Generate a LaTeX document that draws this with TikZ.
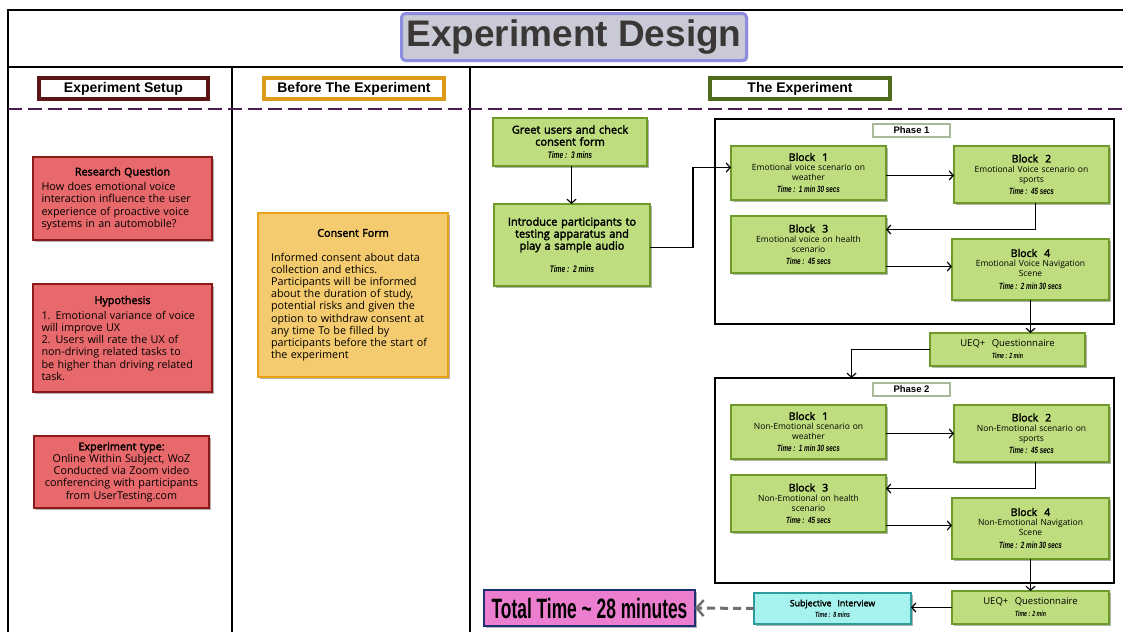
\documentclass[tikz,border=0pt]{standalone}
\usepackage{fontspec}
\setmainfont{Open Sans}[WordSpace=1.3,AutoFakeBold=2.5]
\newfontfamily\hfont{Liberation Sans}
\newfontfamily\tfont{Liberation Sans}[FakeStretch=0.7]
\newfontfamily\bigfont{Liberation Sans}[FakeStretch=0.62]
\usetikzlibrary{arrows.meta,shadows,calc}
\definecolor{redF}{HTML}{E8696B}
\definecolor{redB}{HTML}{8B1A1A}
\definecolor{yelF}{HTML}{F4CB6E}
\definecolor{yelB}{HTML}{E8A317}
\definecolor{grnF}{HTML}{BEDD7E}
\definecolor{grnB}{HTML}{6E9A2A}
\definecolor{cyF}{HTML}{A6F2EE}
\definecolor{cyB}{HTML}{2F9C9C}
\definecolor{totF}{HTML}{EC7ECF}
\definecolor{totB}{HTML}{1F2F6F}
\definecolor{titleF}{HTML}{C9CAD5}
\definecolor{titleB}{HTML}{8E8EE0}
\definecolor{titleT}{HTML}{3B3737}
\definecolor{setupB}{HTML}{5C1515}
\definecolor{beforeB}{HTML}{DC9A18}
\definecolor{expB}{HTML}{4F6B1B}
\definecolor{dashC}{HTML}{4B1C4F}
\definecolor{labB}{HTML}{A9B99A}
\definecolor{dgray}{HTML}{707070}
\newcommand\timetxt[2][9]{{\tfont\fontsize{#1}{#1}\selectfont\bfseries\itshape #2}}
\begin{document}
\begin{tikzpicture}[x=1pt,y=-1pt,
  every node/.style={inner sep=0pt,outer sep=0pt},
  sh/.style={drop shadow={shadow xshift=1.5pt,shadow yshift=-1.5pt,opacity=0.3,fill=black}},
  redbox/.style={draw=redB,fill=redF,line width=1.6pt,sh},
  ybox/.style={draw=yelB,fill=yelF,line width=1.6pt,sh},
  gbox/.style={draw=grnB,fill=grnF,line width=1.6pt,sh,align=center},
  hdr/.style={fill=white,line width=4pt,minimum height=21pt,sh,font=\hfont\fontsize{14}{14}\selectfont\bfseries},
  plabel/.style={fill=white,draw=labB,line width=1.8pt,minimum width=77pt,minimum height=13pt,font=\hfont\fontsize{9.5}{9.5}\selectfont\bfseries},
  frame/.style={draw=black,line width=2pt,minimum width=399pt,minimum height=205pt},
  blk/.style={gbox,minimum width=155pt,font=\fontsize{8.5}{10}\selectfont},
  arr/.style={line width=1.2pt,-{Straight Barb[length=4pt,width=9pt,line width=1.2pt]}},
]
\useasboundingbox (0,0) rectangle (1123,632);
\fill[white] (0,0) rectangle (1123,632);

% frame lines
\draw[line width=1.2pt] (1123,10) -- (8,10) -- (8,632);
\draw[line width=2.5pt] (8,67) -- (1123,67);
\draw[line width=2pt] (232,67) -- (232,632);
\draw[line width=2pt] (470,67) -- (470,632);
\draw[draw=dashC,line width=2.5pt,dash pattern=on 14pt off 6pt] (8,109) -- (1123,109);

% title
\node[draw=titleB,fill=titleF,line width=3pt,rounded corners=4pt,minimum width=345pt,minimum height=47pt,sh] (title) at (574,37)
  {\hfont\fontsize{37}{37}\selectfont\bfseries\color{titleT}Experiment Design};

% headers
\node[hdr,draw=setupB,minimum width=169pt] (hsetup) at (123.5,88.5) {Experiment Setup};
\node[hdr,draw=beforeB,minimum width=180pt] (hbefore) at (354,88.5) {Before The Experiment};
\node[hdr,draw=expB,minimum width=180pt] (hexp) at (800,88.5) {The Experiment};

% left column
\node[redbox,minimum width=179pt,minimum height=83pt,text width=162pt] (rq) at (122.5,198.5)
  {\fontsize{10.8}{12.2}\selectfont{\centering\bfseries Research Question\par}\vspace{3pt}\raggedright
   How does emotional voice\\interaction influence the user\\experience of proactive voice\\systems in an automobile?};
\node[redbox,minimum width=179pt,minimum height=108pt,text width=162pt] (hyp) at (122.5,338)
  {\fontsize{10.8}{12.2}\selectfont{\centering\bfseries Hypothesis\par}\vspace{3pt}\raggedright
   1. Emotional variance of voice\\will improve UX\\2. Users will rate the UX of\\non-driving related tasks to\\be higher than driving related\\task.};
\node[redbox,minimum width=175pt,minimum height=72pt,text width=172pt] (etype) at (121.5,472)
  {\fontsize{10.8}{12.2}\selectfont\centering{\bfseries Experiment type:}\\Online Within Subject, WoZ\\Conducted via Zoom video\\conferencing with participants\\from UserTesting.com\par};

% consent
\node[ybox,minimum width=190pt,minimum height=164pt,text width=164pt] (consent) at (353,295)
  {\fontsize{10.8}{12.2}\selectfont{\centering\bfseries Consent Form\par}\vspace{12pt}\raggedright
   Informed consent about data\\collection and ethics.\\Participants will be informed\\about the duration of study,\\potential risks and given the\\option to withdraw consent at\\any time To be filled by\\participants before the start of\\the experiment};

% experiment
\node[gbox,minimum width=154pt,minimum height=48pt,font=\bfseries\fontsize{11}{12}\selectfont] (greet) at (570,142)
  {Greet users and check\\consent form\\[1pt]\timetxt[9.5]{Time :\ \ 3 mins}};
\node[gbox,minimum width=156pt,minimum height=82pt,font=\bfseries\fontsize{11}{12}\selectfont] (intro) at (572,245)
  {Introduce participants to\\testing apparatus and\\play a sample audio\\[11pt]\timetxt[9.5]{Time :\ \ 2 mins}};

\node[frame] (ph1) at (914.5,221.5) {};
\node[frame] (ph2) at (914.5,480.5) {};
\node[plabel] (ph1l) at (911.5,130.5) {Phase 1};
\node[plabel] (ph2l) at (911.5,389.5) {Phase 2};

\node[blk,minimum height=54pt] (p1b1) at (808.5,173)
  {{\bfseries\fontsize{10.5}{12}\selectfont Block\ \ 1}\\Emotional voice scenario on\\weather\\[2pt]\timetxt{Time :\ \ 1 min 30 secs}};
\node[blk,minimum height=57pt] (p1b2) at (1031.5,174.5)
  {{\bfseries\fontsize{10.5}{12}\selectfont Block\ \ 2}\\Emotional Voice scenario on\\sports\\[2pt]\timetxt{Time :\ \ 45 secs}};
\node[blk,minimum height=57pt] (p1b3) at (808.5,244.5)
  {{\bfseries\fontsize{10.5}{12}\selectfont Block\ \ 3}\\Emotional voice on health\\scenario\\[2pt]\timetxt{Time :\ \ 45 secs}};
\node[blk,minimum width=157pt,minimum height=61pt] (p1b4) at (1030.5,269.5)
  {{\bfseries\fontsize{10.5}{12}\selectfont Block\ \ 4}\\Emotional Voice Navigation\\Scene\\[3pt]\timetxt{Time :\ \ 2 min 30 secs}};
\node[gbox,minimum width=155pt,minimum height=33pt,font=\fontsize{9.5}{11}\selectfont] (ueq1) at (1007.5,349.5)
  {UEQ+\ \ Questionnaire\\[1pt]\timetxt[7.5]{Time : 2 min}};

\node[blk,minimum height=54pt] (p2b1) at (808.5,432)
  {{\bfseries\fontsize{10.5}{12}\selectfont Block\ \ 1}\\Non-Emotional scenario on\\weather\\[2pt]\timetxt{Time :\ \ 1 min 30 secs}};
\node[blk,minimum height=57pt] (p2b2) at (1031.5,433.5)
  {{\bfseries\fontsize{10.5}{12}\selectfont Block\ \ 2}\\Non-Emotional scenario on\\sports\\[2pt]\timetxt{Time :\ \ 45 secs}};
\node[blk,minimum height=57pt] (p2b3) at (808.5,503.5)
  {{\bfseries\fontsize{10.5}{12}\selectfont Block\ \ 3}\\Non-Emotional on health\\scenario\\[2pt]\timetxt{Time :\ \ 45 secs}};
\node[blk,minimum width=157pt,minimum height=61pt] (p2b4) at (1030.5,528.5)
  {{\bfseries\fontsize{10.5}{12}\selectfont Block\ \ 4}\\Non-Emotional Navigation\\Scene\\[3pt]\timetxt{Time :\ \ 2 min 30 secs}};
\node[gbox,minimum width=157pt,minimum height=33pt,font=\fontsize{9.5}{11}\selectfont] (ueq2) at (1030.5,607.5)
  {UEQ+\ \ Questionnaire\\[1pt]\timetxt[7.5]{Time : 2 min}};

\node[draw=cyB,fill=cyF,line width=1.6pt,sh,align=center,minimum width=157pt,minimum height=31pt,font=\bfseries\fontsize{8.8}{10}\selectfont] (subj) at (832.5,608.5)
  {Subjective\ \ Interview\\[1pt]\timetxt[7.5]{Time :\ \ 8 mins}};
\node[draw=totB,fill=totF,line width=1.8pt,minimum width=211pt,minimum height=36pt,sh] (total) at (589.5,608)
  {\bigfont\fontsize{28}{28}\selectfont\bfseries Total Time \textasciitilde\ 28 minutes};

% connectors
\draw[arr] ([xshift=1.5pt]greet.south) -- ([xshift=1.5pt]greet.south |- intro.north);
\draw[arr] ([yshift=-2.5pt]intro.east) -- ++(43pt,0) |- ([yshift=5.5pt]p1b1.west);
\draw[arr] ([yshift=-2.5pt]p1b1.east) -- ([yshift=-2.5pt]p1b1.east -| p1b2.west);
\draw[arr] ([xshift=4pt]p1b2.south) |- ([yshift=15pt]p1b3.east);
\draw[arr] ([yshift=-22pt]p1b3.east) -- ([yshift=-22pt]p1b3.east -| p1b4.west);
\draw[arr] (p1b4.south) -- (p1b4.south |- ueq1.north);
\draw[arr] (ueq1.west) -| ([xshift=-63pt]ph2.north);
\draw[arr] ([yshift=-1.5pt]p2b1.east) -- ([yshift=-1.5pt]p2b1.east -| p2b2.west);
\draw[arr] ([xshift=4pt]p2b2.south) |- ([yshift=15pt]p2b3.east);
\draw[arr] ([yshift=-22pt]p2b3.east) -- ([yshift=-22pt]p2b3.east -| p2b4.west);
\draw[arr] (p2b4.south) -- (p2b4.south |- ueq2.north);
\draw[arr] (ueq2.west) -- (ueq2.west -| subj.east);
\draw[draw=dgray,line width=3pt,dash pattern=on 8pt off 5pt,-{Straight Barb[length=7pt,width=16pt,line width=2.5pt]}] (subj.west) -- (total.east);
\end{tikzpicture}
\end{document}
